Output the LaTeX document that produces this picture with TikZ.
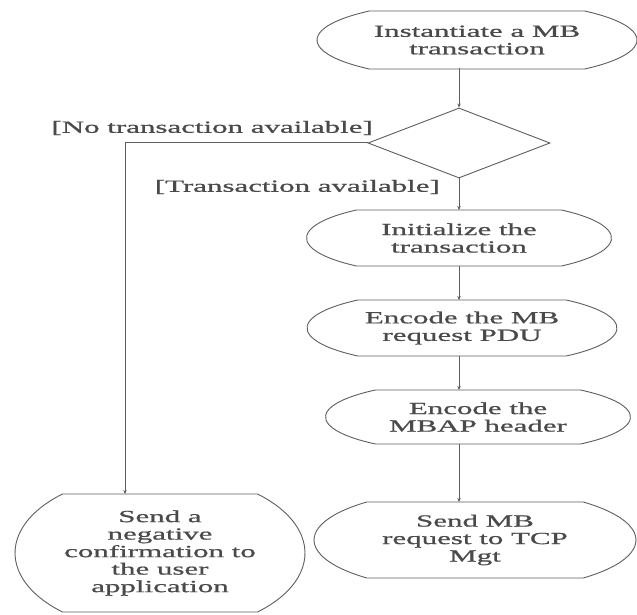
\documentclass[tikz,border=0pt]{standalone}
\usepackage{fontspec}
\setmainfont{Liberation Serif}[FakeStretch=1.82, FakeBold=0.9]
\usetikzlibrary{arrows.meta,shapes.geometric}

\definecolor{ink}{HTML}{4A4A4A}
\definecolor{rule}{HTML}{5E5E5E}

\tikzset{
  txt/.style={text=ink, align=center, inner sep=0pt,
    font=\fontsize{17}{17.5}\selectfont},
  lensline/.style={draw=rule, line width=0.9pt},
  flow/.style={draw=rule, line width=1pt,
    -{Stealth[length=4pt,width=3.5pt]}},
  guard/.style={text=ink, inner sep=0pt, font=\fontsize{17}{17.5}\selectfont},
}

% Outline of a process box: flat top and bottom, elliptic left and right sides.
% #1 node name, #2 width, #3 height (both in pt)
\newcommand\lensoutline[3]{%
  \pgfmathsetmacro\lrx{#2/2}%
  \pgfmathsetmacro\lry{#3/2/0.74}%
  \pgfmathsetmacro\lflat{2*0.673*\lrx}%
  \draw[lensline] (#1.center) ++(132.3:{\lrx pt} and {\lry pt})
    arc[start angle=132.3, end angle=227.7, x radius=\lrx pt, y radius=\lry pt]
    -- ++(\lflat pt,0pt)
    arc[start angle=-47.7, end angle=47.7, x radius=\lrx pt, y radius=\lry pt]
    -- cycle;
}

\begin{document}
\begin{tikzpicture}[x=1pt,y=-1pt]
  \useasboundingbox[fill=white] (0,0) rectangle (637,615);

  % process steps
  \node[txt] (inst)   at (477,40)  {Instantiate a MB\\transaction};
  \node[draw=rule, line width=0.9pt, diamond, minimum width=182pt,
        minimum height=70pt, inner sep=0pt] (dec) at (459,143) {};
  \node[txt] (init)   at (459,238) {Initialize the\\transaction};
  \node[txt] (encpdu) at (462,328) {Encode the MB\\request PDU};
  \node[txt] (mbap)   at (478,417) {Encode the\\MBAP header};
  \node[txt] (send)   at (475,540) {Send MB\\request to TCP\\Mgt};
  \node[txt] (neg)    at (160,553) {Send a\\negative\\confirmation to\\the user\\application};

  \lensoutline{inst}{320}{58}
  \lensoutline{init}{305}{56}
  \lensoutline{encpdu}{310}{56}
  \lensoutline{mbap}{305}{54}
  \lensoutline{send}{322}{76}
  \lensoutline{neg}{290}{118}

  % guards of the decision
  \node[guard, anchor=east] (noguard) at (373,128) {[No transaction available]};
  \node[guard, anchor=east] (yesguard) at (440,187) {[Transaction available]};

  % connectors
  \coordinate (turn) at (125,143);
  \draw[flow] (dec.north |- 0,68) -- (dec.north);
  \draw[flow] (dec.south) -- (dec.south |- 0,210);
  \draw[flow] (dec.south |- 0,266) -- (dec.south |- 0,300);
  \draw[flow] (dec.south |- 0,356) -- (dec.south |- 0,390);
  \draw[flow] (dec.south |- 0,444) -- (dec.south |- 0,502);
  \draw[flow] (dec.west) -- (turn) -- (turn |- 0,494);
\end{tikzpicture}
\end{document}
